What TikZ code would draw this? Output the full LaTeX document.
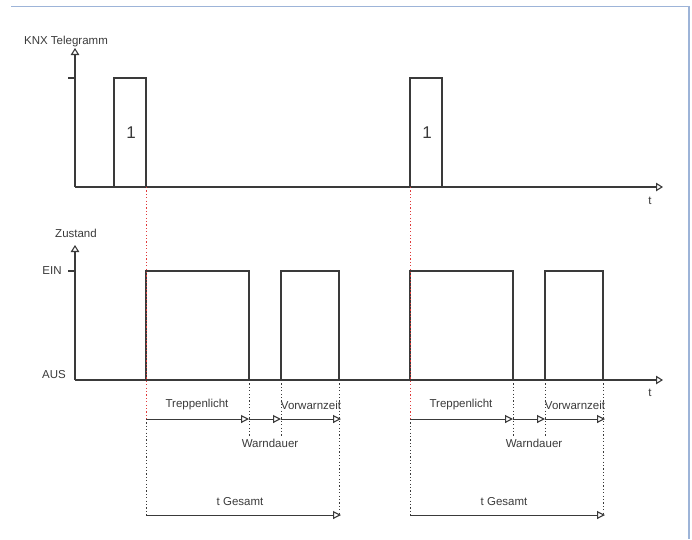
\documentclass[tikz,border=0pt]{standalone}
\usepackage{fontspec}
\setmainfont{Liberation Sans}
\usetikzlibrary{arrows.meta}
\definecolor{trait}{HTML}{3A3A3A}
\definecolor{cadre}{HTML}{9DB4D8}
\definecolor{rouge}{HTML}{E03A3A}
\tikzset{
  signal/.style={draw=trait, line width=1.2pt},
  axe/.style={signal, -{Triangle[open,length=7pt,width=8.5pt,line width=1.1pt]}},
  fleche/.style={signal, line width=1pt, -{Triangle[open,length=8pt,width=8pt,line width=1.1pt]}},
  pointille/.style={draw=trait, line width=1pt, dash pattern=on 1.2pt off 2.2pt},
  repere/.style={pointille, draw=rouge},
  texte/.style={inner sep=0pt, text=trait}
}

\begin{document}
\begin{tikzpicture}[x=1pt, y=-1pt, font=\fontsize{11.5}{13}\selectfont]
  \useasboundingbox (0,0) rectangle (692,539);
  % Cadre
  \draw[cadre, line width=1.5pt] (11,6.5) -- (689,6.5) -- (689,539);

  % Axes du telegramme
  \coordinate (o1) at (75,187);
  \draw[axe] (o1) -- (75,48);
  \draw[axe] (o1) -- (663,187);
  \draw[signal] (68,78) -- (75,78);
  \node[texte] (knx) at (66,42) {KNX Telegramm};
  \node[texte] (t1) at (650,201) {t};

  % Axes de l'etat
  \coordinate (o2) at (75,380);
  \draw[axe] (o2) -- (75,245);
  \draw[axe] (o2) -- (663,380);
  \draw[signal] (68,271) -- (75,271);
  \node[texte] (zustand) at (76,233) {Zustand};
  \node[texte] (ein) at (52,271) {EIN};
  \node[texte] (aus) at (54,375) {AUS};
  \node[texte] (t2) at (650,393) {t};

  % Telegrammes
  \foreach \a/\n in {114/p, 410/q} {
    \draw[signal] (\a,187) |- (\a+32,78) -- (\a+32,187);
    \node[texte, font=\fontsize{17}{19}\selectfont] (un\n) at (\a+17,133) {1};
  }

  % Etat et durees
  \foreach \d [count=\i] in {0,264} {
    \coordinate (d\i) at (146+\d,419);
    \coordinate (w\i) at (249+\d,419);
    \coordinate (v\i) at (281+\d,419);
    \coordinate (f\i) at (341+\d,419);
    \coordinate (g\i) at (146+\d,515);
    \coordinate (h\i) at (341+\d,515);
    \draw[signal] (146+\d,380) |- (249+\d,271) -- (249+\d,380);
    \draw[signal] (281+\d,380) |- (339+\d,271) -- (339+\d,380);
    \draw[repere] (146+\d,187) -- (d\i);
    \draw[pointille] (d\i) -- (g\i);
    \draw[pointille] (249+\d,380) -- (249+\d,437);
    \draw[pointille] (281+\d,380) -- (281+\d,437);
    \draw[pointille] (339+\d,380) -- (339+\d,515);
    \draw[fleche] (d\i) -- (w\i);
    \draw[fleche] (w\i) -- (v\i);
    \draw[fleche] (v\i) -- (f\i);
    \draw[fleche] (g\i) -- (h\i);
    \node[texte] (trep\i) at (197+\d,405) {Treppenlicht};
    \node[texte] (vorw\i) at (311+\d,405) {Vorwarnzeit};
    \node[texte] (warn\i) at (270+\d,443) {Warndauer};
    \node[texte] (ges\i) at (240+\d,502) {t Gesamt};
  }
\end{tikzpicture}
\end{document}
